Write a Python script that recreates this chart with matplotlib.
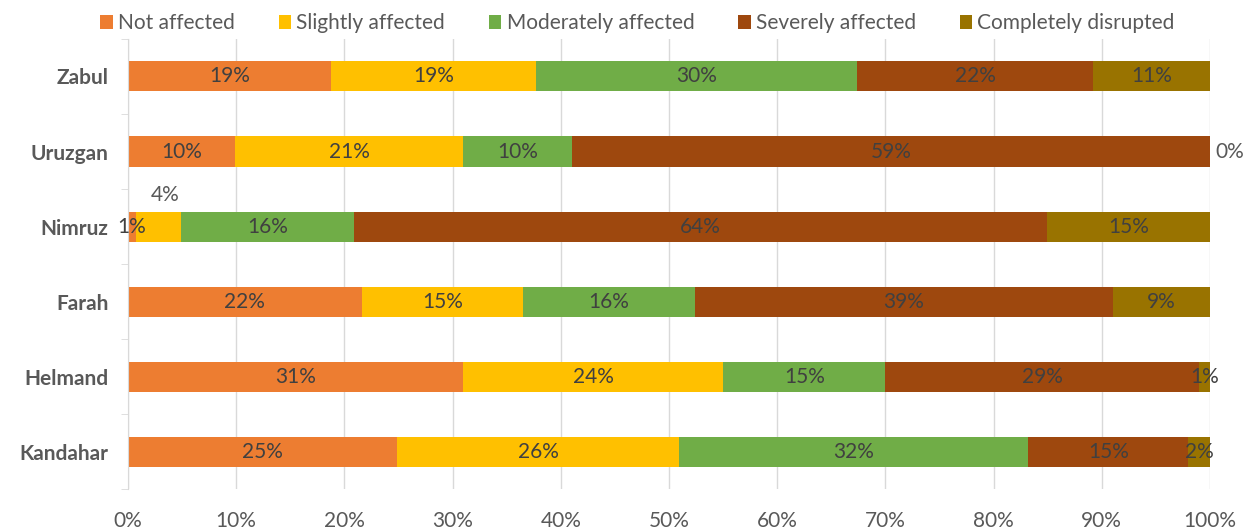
import matplotlib.pyplot as plt
import numpy as np
from matplotlib.patches import Patch
from matplotlib.ticker import PercentFormatter

provinces = ["Kandahar", "Helmand", "Farah", "Nimruz", "Uruzgan", "Zabul"]
categories = ["Not affected", "Slightly affected", "Moderately affected",
              "Severely affected", "Completely disrupted"]

# share of respondents (%) per province, bottom to top
not_affected = [24.9, 31.0, 21.6, 0.7, 9.9, 18.8]
slightly = [26.0, 24.0, 14.9, 4.2, 21.1, 18.9]
moderately = [32.3, 15.0, 15.9, 16.0, 10.0, 29.7]
severely = [14.8, 29.0, 38.6, 64.0, 59.0, 21.8]
disrupted = [2.0, 1.0, 9.0, 15.1, 0.0, 10.8]

colors = ["#ED7D31", "#FFC000", "#70AD47", "#9E480E", "#997300"]
text_gray = "#595959"
label_gray = "#404040"

plt.rcParams['font.family'] = ['Lato', 'DejaVu Sans']

fig = plt.figure(figsize=(12.5, 5.32), dpi=100)
ax = fig.add_axes([0.1024, 0.0808, 0.8656, 0.8459])

series = [not_affected, slightly, moderately, severely, disrupted]
y = np.arange(len(provinces))
left = np.zeros(len(provinces))
for si, (vals, col) in enumerate(zip(series, colors)):
    vals = np.array(vals)
    ax.barh(y, vals, left=left, height=0.4, color=col, zorder=2)
    for i, v in enumerate(vals):
        txt = f"{round(v)}%"
        if v == 0:
            ax.text(left[i] + v + 0.5, y[i], txt, ha="left", va="center",
                    fontsize=15, color=text_gray, zorder=3)
        elif provinces[i] == "Nimruz" and categories[si] == "Slightly affected":
            ax.text(left[i] + v / 2 + 0.6, y[i] + 0.42, txt, ha="center",
                    va="center", fontsize=15, color=text_gray, zorder=3)
        else:
            ax.text(left[i] + v / 2, y[i], txt, ha="center", va="center",
                    fontsize=15, color=label_gray, zorder=3)
    left += vals

ax.set_xlim(0, 100)
ax.set_ylim(-0.5, len(provinces) - 0.5)
ax.xaxis.set_major_locator(plt.MultipleLocator(10))
ax.xaxis.set_major_formatter(PercentFormatter(decimals=0))
ax.grid(axis="x", color="#D9D9D9", linewidth=1, zorder=0)

ax.set_yticks(y)
ax.set_yticklabels(provinces, fontsize=15, fontweight="bold", color=text_gray)
ax.set_yticks(np.arange(-0.5, len(provinces)), minor=True)
ax.tick_params(axis="y", which="major", length=0, pad=14)
ax.tick_params(axis="y", which="minor", length=5, color="#D9D9D9")
ax.tick_params(axis="x", length=0, labelsize=15, labelcolor=text_gray, pad=16)

for side in ["top", "right", "bottom"]:
    ax.spines[side].set_visible(False)
ax.spines["left"].set_color("#D9D9D9")

handles = [Patch(facecolor=c, label=l) for c, l in zip(colors, categories)]
fig.legend(handles=handles, loc="upper center", bbox_to_anchor=(0.51, 1.01),
           ncol=5, frameon=False, fontsize=15, handlelength=0.6,
           handleheight=0.6, handletextpad=0.25, columnspacing=2.1,
           labelcolor=text_gray)

fig.savefig("out.png", dpi=100)
